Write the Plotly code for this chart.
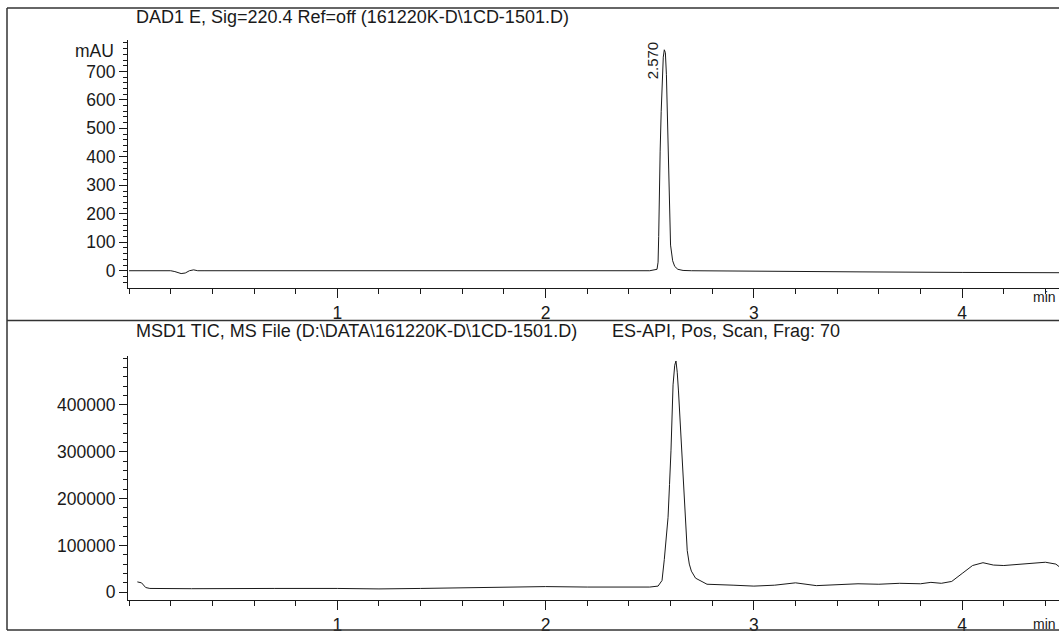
import plotly.graph_objects as go

# ---------------- data ----------------
# DAD1 E, Sig=220.4 (mAU vs min)
dad_time = [0.00, 0.20, 0.22, 0.25, 0.27, 0.29, 0.31, 0.33, 0.36, 1.00, 1.60, 2.00, 2.40, 2.50,
            2.535, 2.54, 2.543, 2.546, 2.55, 2.555, 2.56, 2.565, 2.57, 2.575, 2.58, 2.585, 2.59,
            2.595, 2.60, 2.61, 2.62, 2.635, 2.66, 2.70, 3.00, 3.50, 4.00, 4.47]
dad_mau = [0, 0, -3, -10, -8, 0, 3, 0, 0, 0, 0, -1, -1, 0,
           5, 30, 120, 300, 420, 560, 680, 750, 776, 766, 690, 520, 330,
           180, 90, 35, 15, 5, 1, 0, -2, -4, -6, -7]

# MSD1 TIC (counts vs min)
tic_time = [0.04, 0.06, 0.08, 0.10, 0.30, 0.50, 0.70, 1.00, 1.20, 1.40, 1.60, 1.80, 2.00, 2.20,
            2.40, 2.50, 2.54, 2.559, 2.57, 2.58, 2.588, 2.595, 2.602, 2.612, 2.62, 2.626, 2.632,
            2.638, 2.645, 2.652, 2.66, 2.67, 2.68, 2.69, 2.70, 2.72, 2.75, 2.775, 2.90, 3.00,
            3.10, 3.20, 3.30, 3.40, 3.50, 3.60, 3.70, 3.80, 3.85, 3.90, 3.95, 4.00, 4.05, 4.10,
            4.15, 4.20, 4.30, 4.40, 4.45, 4.47]
tic_counts = [22000, 20000, 10000, 8000, 7500, 8500, 8000, 8000, 7000, 8000, 9000, 10000, 12000, 11000,
              12000, 11000, 13000, 25000, 70000, 115000, 160000, 230000, 302000, 443000, 485000, 494000, 470000,
              430000, 372000, 300000, 230000, 150000, 89000, 60000, 45000, 30000, 22000, 17000, 15000, 13000,
              15000, 20000, 14000, 16000, 18000, 17000, 19000, 18000, 21000, 19000, 23000, 40000, 57000, 63000,
              58000, 57000, 60000, 64000, 60000, 53000]

peak_label = "2.570"
peak_time = 2.57
peak_label_value = 740

top_title = "DAD1 E, Sig=220.4 Ref=off (161220K-D\\1CD-1501.D)"
bottom_title = "MSD1 TIC, MS File (D:\\DATA\\161220K-D\\1CD-1501.D)"
bottom_title2 = "ES-API, Pos, Scan, Frag: 70"
top_ticks = [0, 100, 200, 300, 400, 500, 600, 700]
bottom_ticks = [0, 100000, 200000, 300000, 400000]
x_ticks = [1, 2, 3, 4]

# ---------------- layout helpers ----------------
W, H = 1059, 635
FONT = "Liberation Sans, Arial, sans-serif"
INK = "#1a1a1a"
TXT = 18
TICK = 17.5


def px(x):
    return x / W


def py(y):
    return 1 - y / H


fig = go.Figure()
fig.add_trace(go.Scatter(x=dad_time, y=dad_mau, mode="lines",
                         line=dict(color=INK, width=1), xaxis="x", yaxis="y",
                         showlegend=False, hoverinfo="skip"))
fig.add_trace(go.Scatter(x=tic_time, y=tic_counts, mode="lines",
                         line=dict(color=INK, width=1), xaxis="x2", yaxis="y2",
                         showlegend=False, hoverinfo="skip"))

xr = [-0.005, 4.465]
common_x = dict(range=xr, showgrid=False, zeroline=False, showline=True,
                linecolor=INK, linewidth=1, ticks="outside", ticklen=9, tickwidth=1,
                tickcolor=INK, tickvals=x_ticks, ticktext=[str(v) for v in x_ticks],
                tickfont=dict(family=FONT, size=TICK, color=INK),
                minor=dict(dtick=0.2, tick0=0, ticks="outside", ticklen=5, tickcolor=INK, tickwidth=1),
                domain=[px(128), 1.0], fixedrange=True)
common_y = dict(showgrid=False, zeroline=False, showline=True, linecolor=INK, linewidth=1,
                ticks="outside", ticklen=8, tickwidth=1, tickcolor=INK,
                tickfont=dict(family=FONT, size=TICK, color=INK), fixedrange=True)

fig.update_layout(
    width=W, height=H,
    margin=dict(l=0, r=0, t=0, b=0),
    paper_bgcolor="white", plot_bgcolor="white",
    font=dict(family=FONT, color=INK),
    xaxis=dict(**common_x, anchor="y"),
    yaxis=dict(**common_y, anchor="x",
               range=[-59.4, 811], domain=[py(289), py(40)],
               tickvals=top_ticks, ticktext=[str(v) for v in top_ticks],
               minor=dict(dtick=20, tick0=0, ticks="outside", ticklen=4, tickcolor=INK, tickwidth=1)),
    xaxis2=dict(**common_x, anchor="y2"),
    yaxis2=dict(**common_y, anchor="x2",
                range=[-17000, 504000], domain=[py(603), py(358)],
                tickvals=bottom_ticks, ticktext=[str(v) for v in bottom_ticks],
                minor=dict(dtick=20000, tick0=0, ticks="outside", ticklen=4, tickcolor=INK, tickwidth=1)),
)

ann = []
ann.append(dict(text=top_title, x=px(134), y=py(17), xref="paper", yref="paper",
                xanchor="left", yanchor="middle", showarrow=False,
                font=dict(family=FONT, size=TXT, color=INK)))
ann.append(dict(text=bottom_title, x=px(134), y=py(333), xref="paper", yref="paper",
                xanchor="left", yanchor="middle", showarrow=False,
                font=dict(family=FONT, size=TXT, color=INK)))
ann.append(dict(text=bottom_title2, x=px(610), y=py(333), xref="paper", yref="paper",
                xanchor="left", yanchor="middle", showarrow=False,
                font=dict(family=FONT, size=TXT, color=INK)))
ann.append(dict(text="mAU", x=px(116), y=py(51), xref="paper", yref="paper",
                xanchor="right", yanchor="middle", showarrow=False,
                font=dict(family=FONT, size=TICK, color=INK)))
ann.append(dict(text="min", x=px(1058), y=py(298), xref="paper", yref="paper",
                xanchor="right", yanchor="middle", showarrow=False,
                font=dict(family=FONT, size=14, color=INK)))
ann.append(dict(text="min", x=px(1058), y=py(627), xref="paper", yref="paper",
                xanchor="right", yanchor="middle", showarrow=False,
                font=dict(family=FONT, size=14, color=INK)))
ann.append(dict(text=peak_label, x=peak_time, y=peak_label_value, xref="x", yref="y",
                xshift=-12, textangle=-90, xanchor="center", yanchor="middle", showarrow=False,
                font=dict(family=FONT, size=15, color=INK)))
fig.update_layout(annotations=ann)

frame = dict(color="#333333", width=1.5)
fig.update_layout(shapes=[
    dict(type="line", xref="paper", yref="paper", x0=px(7), x1=1, y0=py(8), y1=py(8), line=frame),
    dict(type="line", xref="paper", yref="paper", x0=px(7), x1=px(7), y0=py(8), y1=py(633), line=frame),
    dict(type="line", xref="paper", yref="paper", x0=px(7), x1=1, y0=py(322), y1=py(322), line=frame),
    dict(type="line", xref="paper", yref="paper", x0=px(7), x1=1, y0=py(633), y1=py(633), line=frame),
])

fig.write_html("out.html", config={"displayModeBar": False},
               post_script="document.body.style.margin='0px';document.body.style.overflow='hidden';")
